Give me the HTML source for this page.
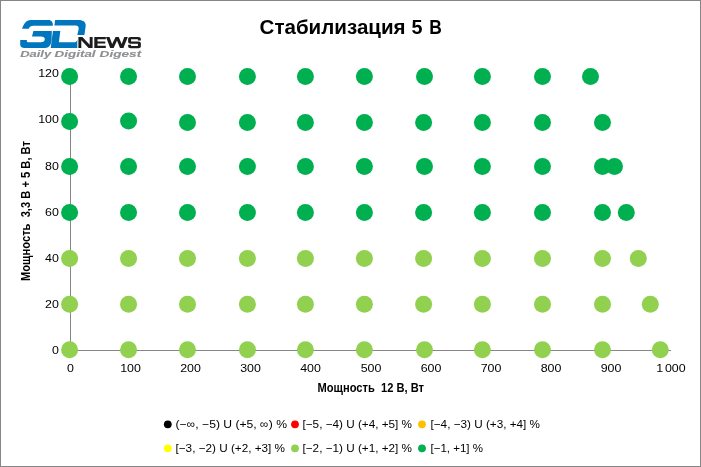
<!DOCTYPE html>
<html><head><meta charset="utf-8">
<style>
html,body{margin:0;padding:0;background:#fff;}
body{width:701px;height:467px;overflow:hidden;font-family:"Liberation Sans",sans-serif;}
svg{display:block;will-change:transform;}
text{font-family:"Liberation Sans",sans-serif;}
</style></head><body>
<svg width="701" height="467" viewBox="0 0 701 467">
<rect x="0" y="0" width="701" height="467" fill="#ffffff"/>
<rect x="0.5" y="0.5" width="700" height="466" fill="none" stroke="#868686" stroke-width="1"/>
<!-- axes -->
<g stroke="#868686" stroke-width="1" shape-rendering="crispEdges">
<line x1="70.5" y1="74" x2="70.5" y2="350.5"/>
<line x1="70" y1="350.5" x2="671" y2="350.5"/>
</g>
<!-- title -->
<g font-size="19.8" font-weight="bold" fill="#000">
<text id="t1" x="259.6" y="33.5" textLength="146" lengthAdjust="spacingAndGlyphs">Стабилизация</text>
<text id="t2" x="411.4" y="33.5">5</text>
<text id="t3" x="429.2" y="33.5" textLength="12.6" lengthAdjust="spacingAndGlyphs">В</text>
</g>
<!-- points -->
<circle cx="69.6" cy="349.65" r="8.5" fill="#92D050"/>
<circle cx="128.55" cy="349.65" r="8.5" fill="#92D050"/>
<circle cx="187.5" cy="349.65" r="8.5" fill="#92D050"/>
<circle cx="247.4" cy="349.65" r="8.5" fill="#92D050"/>
<circle cx="305.4" cy="349.65" r="8.5" fill="#92D050"/>
<circle cx="364.4" cy="349.65" r="8.5" fill="#92D050"/>
<circle cx="424.5" cy="349.65" r="8.5" fill="#92D050"/>
<circle cx="482.4" cy="349.65" r="8.5" fill="#92D050"/>
<circle cx="542.5" cy="349.65" r="8.5" fill="#92D050"/>
<circle cx="602.5" cy="349.65" r="8.5" fill="#92D050"/>
<circle cx="660.3" cy="349.65" r="8.5" fill="#92D050"/>
<circle cx="69.6" cy="304.3" r="8.5" fill="#92D050"/>
<circle cx="128.55" cy="304.3" r="8.5" fill="#92D050"/>
<circle cx="187.5" cy="304.3" r="8.5" fill="#92D050"/>
<circle cx="247.4" cy="304.3" r="8.5" fill="#92D050"/>
<circle cx="305.4" cy="304.3" r="8.5" fill="#92D050"/>
<circle cx="364.4" cy="304.3" r="8.5" fill="#92D050"/>
<circle cx="423.6" cy="304.3" r="8.5" fill="#92D050"/>
<circle cx="482.4" cy="304.3" r="8.5" fill="#92D050"/>
<circle cx="542.5" cy="304.3" r="8.5" fill="#92D050"/>
<circle cx="602.5" cy="304.3" r="8.5" fill="#92D050"/>
<circle cx="650.3" cy="304.3" r="8.5" fill="#92D050"/>
<circle cx="69.6" cy="258.6" r="8.5" fill="#92D050"/>
<circle cx="128.55" cy="258.6" r="8.5" fill="#92D050"/>
<circle cx="187.5" cy="258.6" r="8.5" fill="#92D050"/>
<circle cx="247.4" cy="258.6" r="8.5" fill="#92D050"/>
<circle cx="305.4" cy="258.6" r="8.5" fill="#92D050"/>
<circle cx="364.4" cy="258.6" r="8.5" fill="#92D050"/>
<circle cx="423.6" cy="258.6" r="8.5" fill="#92D050"/>
<circle cx="482.4" cy="258.6" r="8.5" fill="#92D050"/>
<circle cx="542.5" cy="258.6" r="8.5" fill="#92D050"/>
<circle cx="602.5" cy="258.6" r="8.5" fill="#92D050"/>
<circle cx="638.3" cy="258.6" r="8.5" fill="#92D050"/>
<circle cx="69.6" cy="212.6" r="8.5" fill="#00B050"/>
<circle cx="128.55" cy="212.6" r="8.5" fill="#00B050"/>
<circle cx="187.5" cy="212.6" r="8.5" fill="#00B050"/>
<circle cx="247.4" cy="212.6" r="8.5" fill="#00B050"/>
<circle cx="305.4" cy="212.6" r="8.5" fill="#00B050"/>
<circle cx="364.4" cy="212.6" r="8.5" fill="#00B050"/>
<circle cx="423.6" cy="212.6" r="8.5" fill="#00B050"/>
<circle cx="482.4" cy="212.6" r="8.5" fill="#00B050"/>
<circle cx="542.5" cy="212.6" r="8.5" fill="#00B050"/>
<circle cx="602.5" cy="212.6" r="8.5" fill="#00B050"/>
<circle cx="626.3" cy="212.6" r="8.5" fill="#00B050"/>
<circle cx="69.6" cy="166.5" r="8.5" fill="#00B050"/>
<circle cx="128.55" cy="166.5" r="8.5" fill="#00B050"/>
<circle cx="187.5" cy="166.5" r="8.5" fill="#00B050"/>
<circle cx="247.4" cy="166.5" r="8.5" fill="#00B050"/>
<circle cx="305.4" cy="166.5" r="8.5" fill="#00B050"/>
<circle cx="364.4" cy="166.5" r="8.5" fill="#00B050"/>
<circle cx="424.5" cy="166.5" r="8.5" fill="#00B050"/>
<circle cx="482.4" cy="166.5" r="8.5" fill="#00B050"/>
<circle cx="542.5" cy="166.5" r="8.5" fill="#00B050"/>
<circle cx="602.5" cy="166.5" r="8.5" fill="#00B050"/>
<circle cx="614.5" cy="166.5" r="8.5" fill="#00B050"/>
<circle cx="69.6" cy="121.5" r="8.5" fill="#00B050"/>
<circle cx="128.55" cy="120.9" r="8.5" fill="#00B050"/>
<circle cx="187.5" cy="122.4" r="8.5" fill="#00B050"/>
<circle cx="247.4" cy="122.4" r="8.5" fill="#00B050"/>
<circle cx="305.4" cy="122.4" r="8.5" fill="#00B050"/>
<circle cx="364.4" cy="122.4" r="8.5" fill="#00B050"/>
<circle cx="423.6" cy="122.4" r="8.5" fill="#00B050"/>
<circle cx="482.4" cy="122.4" r="8.5" fill="#00B050"/>
<circle cx="542.5" cy="122.4" r="8.5" fill="#00B050"/>
<circle cx="602.5" cy="122.4" r="8.5" fill="#00B050"/>
<circle cx="69.6" cy="76.45" r="8.5" fill="#00B050"/>
<circle cx="128.55" cy="76.45" r="8.5" fill="#00B050"/>
<circle cx="187.5" cy="76.45" r="8.5" fill="#00B050"/>
<circle cx="247.4" cy="76.45" r="8.5" fill="#00B050"/>
<circle cx="305.4" cy="76.45" r="8.5" fill="#00B050"/>
<circle cx="364.4" cy="76.45" r="8.5" fill="#00B050"/>
<circle cx="424.5" cy="76.45" r="8.5" fill="#00B050"/>
<circle cx="482.4" cy="76.45" r="8.5" fill="#00B050"/>
<circle cx="542.5" cy="76.45" r="8.5" fill="#00B050"/>
<circle cx="590.5" cy="76.45" r="8.5" fill="#00B050"/>
<!-- axis labels -->
<g font-size="11.3" fill="#000">
<text transform="translate(70.5,372.1) scale(1.1,1)" text-anchor="middle">0</text>
<text transform="translate(130.5,372.1) scale(1.1,1)" text-anchor="middle">100</text>
<text transform="translate(190.5,372.1) scale(1.1,1)" text-anchor="middle">200</text>
<text transform="translate(250.5,372.1) scale(1.1,1)" text-anchor="middle">300</text>
<text transform="translate(310.5,372.1) scale(1.1,1)" text-anchor="middle">400</text>
<text transform="translate(371,372.1) scale(1.1,1)" text-anchor="middle">500</text>
<text transform="translate(431,372.1) scale(1.1,1)" text-anchor="middle">600</text>
<text transform="translate(491,372.1) scale(1.1,1)" text-anchor="middle">700</text>
<text transform="translate(551,372.1) scale(1.1,1)" text-anchor="middle">800</text>
<text transform="translate(611,372.1) scale(1.1,1)" text-anchor="middle">900</text>
<text transform="translate(671,372.1) scale(1.1,1)" text-anchor="middle">1<tspan dx="-1.6"> </tspan>000</text>
<text transform="translate(58.9,77.2) scale(1.1,1)" text-anchor="end">120</text>
<text transform="translate(58.9,123.4) scale(1.1,1)" text-anchor="end">100</text>
<text transform="translate(58.9,169.5) scale(1.1,1)" text-anchor="end">80</text>
<text transform="translate(58.9,215.7) scale(1.1,1)" text-anchor="end">60</text>
<text transform="translate(58.9,261.9) scale(1.1,1)" text-anchor="end">40</text>
<text transform="translate(58.9,308.1) scale(1.1,1)" text-anchor="end">20</text>
<text transform="translate(58.9,354.2) scale(1.1,1)" text-anchor="end">0</text>
</g>
<!-- axis titles -->
<text id="xt" x="317.5" y="392.2" font-size="12" font-weight="bold" fill="#000" textLength="106.5" lengthAdjust="spacingAndGlyphs" xml:space="preserve">Мощность  12 В, Вт</text>
<text id="yt" transform="translate(30.3,281) rotate(-90)" font-size="12" font-weight="bold" fill="#000" textLength="140" lengthAdjust="spacingAndGlyphs" xml:space="preserve">Мощность  3,3 В + 5 В, Вт</text>
<!-- legend -->
<g font-size="11.3" fill="#000">
<circle cx="167.8" cy="424.3" r="3.9" fill="#000"/>
<text x="175.5" y="428.1" textLength="111.5" lengthAdjust="spacingAndGlyphs">(−∞, −5) U (+5, ∞) %</text>
<circle cx="295" cy="424.3" r="3.9" fill="#FF0000"/>
<text x="302.5" y="428.1" textLength="109.5" lengthAdjust="spacingAndGlyphs">[−5, −4) U (+4, +5] %</text>
<circle cx="422" cy="424.3" r="3.9" fill="#FFC000"/>
<text x="430.5" y="428.1" textLength="109.5" lengthAdjust="spacingAndGlyphs">[−4, −3) U (+3, +4] %</text>
<circle cx="167.8" cy="448.3" r="3.9" fill="#FFFF00"/>
<text x="175.5" y="452.1" textLength="109.5" lengthAdjust="spacingAndGlyphs">[−3, −2) U (+2, +3] %</text>
<circle cx="295" cy="448.3" r="3.9" fill="#92D050"/>
<text x="302.5" y="452.1" textLength="109.5" lengthAdjust="spacingAndGlyphs">[−2, −1) U (+1, +2] %</text>
<circle cx="422" cy="448.3" r="3.9" fill="#00B050"/>
<text x="430.5" y="452.1" textLength="52.5" lengthAdjust="spacingAndGlyphs">[−1, +1] %</text>
</g>
<!-- logo -->
<g id="logo">
<g fill="#0076BF">
<path d="M22.1,28.7 C23.6,24.3 26,20 30.6,20 L48.5,20 C51.6,20 53.1,22.3 52.9,25.7 L33.5,25.7 C31,25.7 29.4,26.9 28.7,28.7 Z"/>
<path d="M33.4,31.1 L51.8,31.1 L51.6,39.5 C51.4,44.5 49,48 45,48 L24.6,48 C21.5,48 20.2,46.8 20.2,44.6 L20.2,40.1 L26.8,40.1 L26.9,41.2 C27,42 27.6,42.3 28.6,42.3 L40.8,42.3 C43.4,42.3 44.7,41 44.8,39.2 C44.9,37.5 43.5,36.6 40.8,36.6 L32,36.6 Z"/>
<path d="M55.1,20 L78.5,20 C83.5,20 86,22.3 85.7,26 L84.4,35 L77.3,35 L78.7,29 C78.9,26.8 78,25.6 75.5,25.6 L54.4,25.6 Z"/>
<path d="M52.9,31 L60.3,31 L58.9,42.3 L73.5,42.3 C75.5,42.3 77,41.5 77.3,39.2 L77.3,48 L50.7,48 Z"/>
</g>
<g fill="#1c1c1c">
<path d="M78.4,47.9 V37.1 H82.4 L89.7,44.7 V37.1 H92.6 V47.9 H88.6 L81.3,40.3 V47.9 Z"/>
<path d="M94.3,37.1 H105.8 V39.3 H97.5 V41.6 H105.3 V43.4 H97.5 V45.7 H105.8 V47.9 H94.3 Z"/>
<polygon points="106,37.1 109.5,37.1 113.6,47.9 110.2,47.9"/>
<polygon points="110.2,47.9 113.6,47.9 118.7,37.1 115.6,37.1"/>
<polygon points="115.6,37.1 118.7,37.1 123.4,47.9 120,47.9"/>
<polygon points="120,47.9 123.4,47.9 127.8,37.1 124.3,37.1"/>
<g transform="translate(134.5,0) scale(1.3,1)"><path fill="none" stroke="#1c1c1c" stroke-width="2.25" d="M3.77,40.5 V39.1 Q3.77,38 2.8,38 H-2.8 Q-3.77,38 -3.77,39.1 V41.4 Q-3.77,42.5 -2.8,42.5 H2.8 Q3.77,42.5 3.77,43.6 V45.9 Q3.77,47 2.8,47 H-2.8 Q-3.77,47 -3.77,45.9 V44.8"/></g>
</g>
<g font-size="9.3" font-weight="bold" font-style="italic" fill="#8e9093" stroke="#8e9093" stroke-width="0.12">
<text x="20.2" y="57.4" textLength="31" lengthAdjust="spacingAndGlyphs">Daily</text>
<text x="54.6" y="57.4" textLength="41" lengthAdjust="spacingAndGlyphs">Digital</text>
<text x="99.6" y="57.4" textLength="41.6" lengthAdjust="spacingAndGlyphs">Digest</text>
</g>

</g>
</svg>
</body></html>
